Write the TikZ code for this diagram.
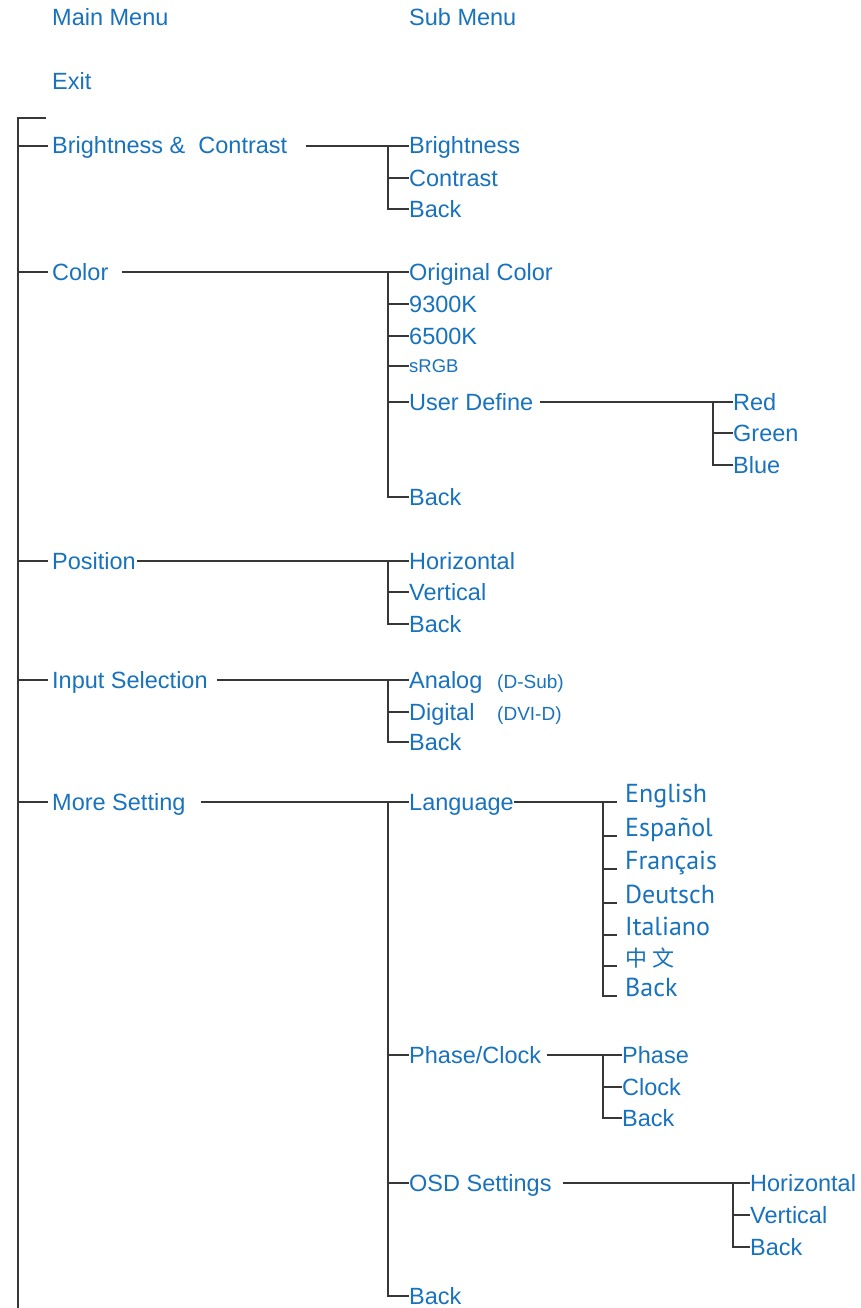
\documentclass[tikz,border=0pt]{standalone}
\usepackage{fontspec}
\setmainfont{Liberation Sans}
\newfontfamily\langfont{PT Sans}
\newfontfamily\cjk{Noto Sans CJK SC}
\definecolor{menublue}{RGB}{24,114,188}
\definecolor{linegray}{RGB}{55,55,55}

\tikzset{
  item/.style={anchor=west, inner sep=0pt, text height=18pt, text depth=2pt, text=menublue, font=\fontsize{23.5}{28}\selectfont},
  smallitem/.style={item, text height=14pt, text depth=1pt, font=\fontsize{18.5}{22}\selectfont},
  langitem/.style={anchor=base west, inner sep=0pt, text=menublue, font=\langfont\fontsize{26}{30}\selectfont},
  link/.style={draw=linegray, line width=2pt},
}

\begin{document}
\begin{tikzpicture}[x=1pt, y=-1pt]
  \useasboundingbox (0,0) rectangle (860,1308);

  % Headings
  \node[item] (mainhd) at (52,18) {Main Menu};
  \node[item] (subhd) at (409,18) {Sub Menu};
  \node[item] (exit) at (52,82) {Exit};

  % Main menu
  \node[item] (bc) at (52,146) {Brightness \& \ Contrast};
  \node[item] (col) at (52,272) {Color};
  \node[item] (pos) at (52,561) {Position};
  \node[item] (inp) at (52,680) {Input Selection};
  \node[item] (more) at (52,802) {More Setting};

  \coordinate (top) at (18,118);
  \coordinate (hook) at (46,118);
  \coordinate (bottom) at (18,1308);
  \draw[link] (hook) -- (top) -- (bottom);
  \foreach \n in {bc,col,pos,inp,more} \draw[link] (top |- \n.west) -- ([xshift=-4pt]\n.west);

  % Brightness & Contrast
  \node[item] (bc1) at (409,146) {Brightness};
  \node[item] (bc2) at (409,178) {Contrast};
  \node[item] (bc3) at (409,209) {Back};
  \coordinate (bcs) at ([xshift=-21pt]bc1.west);
  \draw[link] ([xshift=18pt]bc.east) -- (bc1.west);
  \draw[link] (bcs) |- (bc3.west);
  \draw[link] (bcs |- bc2.west) -- (bc2.west);

  % Color
  \node[item] (col1) at (409,272) {Original Color};
  \node[item] (col2) at (409,304) {9300K};
  \node[item] (col3) at (409,336) {6500K};
  \node[smallitem] (col4) at (409,366) {sRGB};
  \node[item] (col5) at (409,402) {User Define};
  \node[item] (col6) at (409,497) {Back};
  \coordinate (cols) at ([xshift=-21pt]col1.west);
  \draw[link] ([xshift=13pt]col.east) -- (col1.west);
  \draw[link] (cols) |- (col6.west);
  \foreach \n in {col2,col3,col4,col5} \draw[link] (cols |- \n.west) -- (\n.west);

  % User Define
  \node[item] (ud1) at (733,402) {Red};
  \node[item] (ud2) at (733,433) {Green};
  \node[item] (ud3) at (733,465) {Blue};
  \coordinate (uds) at ([xshift=-20pt]ud1.west);
  \draw[link] ([xshift=7pt]col5.east) -- (ud1.west);
  \draw[link] (uds) |- (ud3.west);
  \draw[link] (uds |- ud2.west) -- (ud2.west);

  % Position
  \node[item] (pos1) at (409,561) {Horizontal};
  \node[item] (pos2) at (409,592) {Vertical};
  \node[item] (pos3) at (409,624) {Back};
  \coordinate (poss) at ([xshift=-21pt]pos1.west);
  \draw[link] ([xshift=1pt]pos.east) -- (pos1.west);
  \draw[link] (poss) |- (pos3.west);
  \draw[link] (poss |- pos2.west) -- (pos2.west);

  % Input Selection
  \node[item] (inp1) at (409,680) {\makebox[88pt][l]{Analog}{\fontsize{19}{22}\selectfont (D-Sub)}};
  \node[item] (inp2) at (409,712) {\makebox[88pt][l]{Digital}{\fontsize{19}{22}\selectfont (DVI-D)}};
  \node[item] (inp3) at (409,742) {Back};
  \coordinate (inps) at ([xshift=-21pt]inp1.west);
  \draw[link] ([xshift=9pt]inp.east) -- (inp1.west);
  \draw[link] (inps) |- (inp3.west);
  \draw[link] (inps |- inp2.west) -- (inp2.west);

  % More Setting
  \node[item] (ms1) at (409,802) {Language};
  \node[item] (ms2) at (409,1055) {Phase/Clock};
  \node[item] (ms3) at (409,1183) {OSD Settings};
  \node[item] (ms4) at (409,1296) {Back};
  \coordinate (mss) at ([xshift=-21pt]ms1.west);
  \draw[link] ([xshift=15pt]more.east) -- (ms1.west);
  \draw[link] (mss) |- (ms4.west);
  \foreach \n in {ms2,ms3} \draw[link] (mss |- \n.west) -- (\n.west);

  % Language
  \node[langitem] (lg1) at (625,802) {English};
  \node[langitem] (lg2) at (625,836) {Español};
  \node[langitem] (lg3) at (625,869) {Français};
  \node[langitem] (lg4) at (625,903) {Deutsch};
  \node[langitem] (lg5) at (625,935) {Italiano};
  \node[langitem] (lg6) at (625,966) {\cjk\fontsize{22}{26}\selectfont 中 文};
  \node[langitem] (lg7) at (625,996) {Back};
  \coordinate (lgs) at ([xshift=-22pt]lg1.base west);
  \draw[link] (ms1.east) -- ([xshift=-8pt]lg1.base west);
  \draw[link] (lgs) |- ([xshift=-8pt]lg7.base west);
  \foreach \n in {lg2,lg3,lg4,lg5,lg6} \draw[link] (lgs |- \n.base west) -- ([xshift=-8pt]\n.base west);

  % Phase/Clock
  \node[item] (ph1) at (622,1055) {Phase};
  \node[item] (ph2) at (622,1087) {Clock};
  \node[item] (ph3) at (622,1118) {Back};
  \coordinate (phs) at ([xshift=-19pt]ph1.west);
  \draw[link] ([xshift=6pt]ms2.east) -- (ph1.west);
  \draw[link] (phs) |- (ph3.west);
  \draw[link] (phs |- ph2.west) -- (ph2.west);

  % OSD Settings
  \node[item] (os1) at (750,1183) {Horizontal};
  \node[item] (os2) at (750,1215) {Vertical};
  \node[item] (os3) at (750,1247) {Back};
  \coordinate (oss) at ([xshift=-17pt]os1.west);
  \draw[link] ([xshift=11pt]ms3.east) -- (os1.west);
  \draw[link] (oss) |- (os3.west);
  \draw[link] (oss |- os2.west) -- (os2.west);
\end{tikzpicture}
\end{document}
